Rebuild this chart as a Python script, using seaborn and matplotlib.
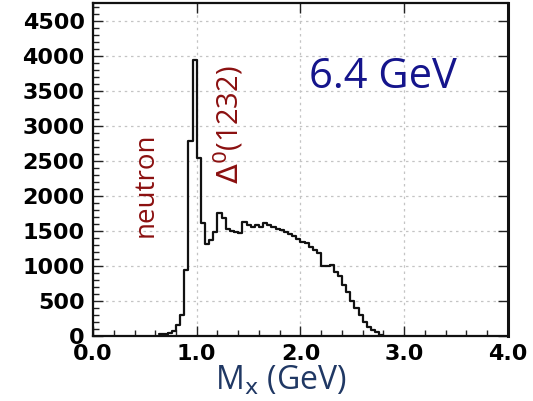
import numpy as np
import pandas as pd
import matplotlib
matplotlib.use("Agg")
import matplotlib.pyplot as plt
import seaborn as sns
from matplotlib.ticker import MultipleLocator, FormatStrFormatter

# ---- data ----
bin_width = 0.04
first_edge = 0.64
counts = [25, 30, 40, 60, 150, 300, 940, 2780, 3950, 2540,
          1610, 1312, 1370, 1490, 1755, 1680, 1530, 1500, 1490, 1475,
          1620, 1590, 1560, 1590, 1555, 1615, 1590, 1550, 1525, 1505,
          1480, 1455, 1420, 1380, 1340, 1320, 1274, 1226, 1178, 990,
          990, 1010, 915, 850, 730, 620, 500, 400, 290, 200,
          130, 80, 45, 15]
x_ticks = [0.0, 1.0, 2.0, 3.0, 4.0]
y_ticks = [0, 500, 1000, 1500, 2000, 2500, 3000, 3500, 4000, 4500]
beam_label = "6.4 GeV"
neutron_label = "neutron"
delta_label = r"$\Delta^{0}$(1232)"

n_bins = len(counts)
centers = first_edge + bin_width * (np.arange(n_bins) + 0.5)
last_edge = first_edge + bin_width * n_bins
df = pd.DataFrame({"mx": centers, "n": np.asarray(counts, dtype=float)})

sns.set_style("ticks")
plt.rcParams["font.family"] = ["DejaVu Sans"]

fig = plt.figure(figsize=(5.33, 4.01), dpi=100)
ax = fig.add_axes([0.1745, 0.163, 0.953 - 0.1745, 0.9925 - 0.163])

sns.histplot(data=df, x="mx", weights="n", binwidth=bin_width,
             binrange=(first_edge, last_edge), element="step",
             fill=False, color="#111111", linewidth=1.6, ax=ax)

ax.set_xlim(0, 4.0)
ax.set_ylim(0, 4760)
ax.set_xticks(x_ticks)
ax.set_yticks(y_ticks)
ax.xaxis.set_major_formatter(FormatStrFormatter("%.1f"))
ax.xaxis.set_minor_locator(MultipleLocator(0.2))
ax.yaxis.set_minor_locator(MultipleLocator(100))

ax.grid(True, which="major", color="#c4c4c4", linestyle=(0, (2, 3)), linewidth=0.9)
ax.set_axisbelow(True)

ax.tick_params(axis="both", which="both", direction="in", top=True, right=True,
               labelsize=16, width=1.0, color="#222222", labelcolor="black")
ax.tick_params(axis="both", which="major", length=7, pad=6)
ax.tick_params(axis="both", which="minor", length=4)
ax.tick_params(axis="x", which="minor", top=False)
ax.tick_params(axis="y", which="minor", right=False)
for lab in ax.get_xticklabels() + ax.get_yticklabels():
    lab.set_fontweight("heavy")

for name, s in ax.spines.items():
    s.set_visible(True)
    s.set_color("#111111")
    s.set_linewidth(2.2 if name == "right" else 1.6)

ax.set_xlabel(r"M$_\mathrm{x}$ (GeV)", fontsize=23, color="#203864",
              family=["Open Sans", "DejaVu Sans"])
ax.xaxis.set_label_coords(0.452, -0.085, transform=ax.transAxes)
ax.xaxis.label.set_va("top")
ax.set_ylabel("")

ax.text(0.698, 0.778, beam_label, transform=ax.transAxes, fontsize=30,
        color="#15158c", ha="center", va="center",
        family=["Open Sans", "DejaVu Sans"])
ax.text(0.507, 2156, neutron_label, rotation=90, fontsize=20,
        color="#8b1010", ha="center", va="center",
        family=["Open Sans", "DejaVu Sans"])
ax.text(1.31, 3012, delta_label, rotation=90, fontsize=21,
        color="#8b1010", ha="center", va="center",
        family=["Open Sans", "DejaVu Sans"])

fig.savefig("out.png", dpi=100)
